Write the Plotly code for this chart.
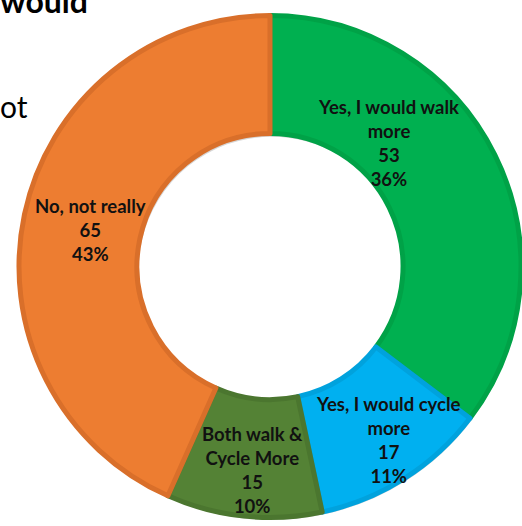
import plotly.graph_objects as go

# Survey responses, clockwise from 12 o'clock
categories = ["Yes, I would walk<br>more", "Yes, I would cycle<br>more",
              "Both walk &<br>Cycle More", "No, not really"]
counts = [53, 17, 15, 65]
percents = ["36%", "11%", "10%", "43%"]

fill_colors = ["#00B050", "#00B0F0", "#548235", "#ED7D31"]
edge_colors = ["#00A247", "#00A2DD", "#4B762F", "#D96F2A"]

# label anchor points (pixels from top-left) for the in-ring callouts
label_pos = [(388, 143), (388, 440), (252, 470), (90, 230)]

W, H = 522, 526
cx, cy, R = 270, 266.5, 251


def dom(x0, y0, r):
    return dict(x=[max(0, (x0 - r) / W), min(1, (x0 + r) / W)],
                y=[max(0, (H - y0 - r) / H), min(1, (H - y0 + r) / H)])


fig = go.Figure()

# soft drop shadow under the ring
fig.add_trace(go.Pie(
    values=counts, sort=False, direction="clockwise", rotation=0,
    hole=0.53, marker=dict(colors=["rgba(0,0,0,0.16)"] * 4, line=dict(width=0)),
    textinfo="none", hoverinfo="skip", showlegend=False,
    domain=dom(cx + 2, cy + 3, R),
))

fig.add_trace(go.Pie(
    labels=[c.replace("<br>", " ") for c in categories],
    values=counts, sort=False, direction="clockwise", rotation=0,
    hole=0.53,
    marker=dict(colors=fill_colors, line=dict(color=edge_colors, width=5)),
    textinfo="none", showlegend=False,
    domain=dom(cx, cy, R),
))

for cat, n, pct, (px, py) in zip(categories, counts, percents, label_pos):
    fig.add_annotation(
        x=px / W, y=1 - py / H, xref="paper", yref="paper",
        text=f"<b>{cat}<br>{n}<br>{pct}</b>", showarrow=False,
        xanchor="center", yanchor="middle", align="center",
        font=dict(family="Lato", size=18.5, color="#111111"),
    )

# clipped heading text at the top-left
fig.add_annotation(x=-0.004, y=1, xref="paper", yref="paper",
                   text="<b>would</b>", showarrow=False, xanchor="left",
                   yanchor="middle", font=dict(family="Lato", size=32, color="#000000"))
fig.add_annotation(x=-0.004, y=1 - 106 / H, xref="paper", yref="paper",
                   text="ot", showarrow=False, xanchor="left",
                   yanchor="middle", font=dict(family="Lato", size=30, color="#000000"))

fig.update_layout(
    width=W, height=H, margin=dict(l=0, r=0, t=0, b=0),
    paper_bgcolor="white", plot_bgcolor="white",
)

fig.write_html("out.html")
